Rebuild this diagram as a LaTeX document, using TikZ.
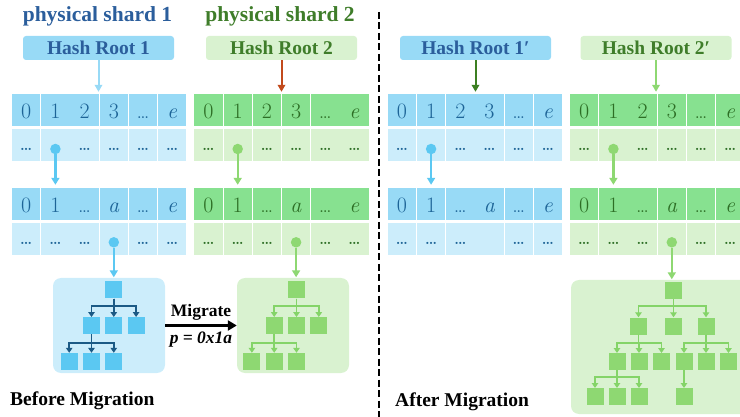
\documentclass[tikz,border=0pt]{standalone}
\usepackage{fontspec}
\usepackage{xcolor}
\usepackage{tikz}
\usetikzlibrary{arrows.meta}
\newfontfamily\labelfont{Liberation Serif}

\definecolor{blueRow}{HTML}{98DAF6}
\definecolor{blueLight}{HTML}{CCEDFB}
\definecolor{blueText}{HTML}{1D6497}
\definecolor{bluePin}{HTML}{5BC8F2}
\definecolor{blueLine}{HTML}{1B5A85}
\definecolor{blueTitle}{HTML}{2B5E9C}
\definecolor{greenRow}{HTML}{87E190}
\definecolor{greenLight}{HTML}{D9F2D0}
\definecolor{greenText}{HTML}{2D6E25}
\definecolor{greenPin}{HTML}{8ED872}
\definecolor{greenLine}{HTML}{84D468}
\definecolor{greenTitle}{HTML}{3F7D2A}
\definecolor{rootRed}{HTML}{C24A1C}
\definecolor{rootGreen}{HTML}{3C7F22}

\begin{document}
\begin{tikzpicture}[x=1pt, y=-1pt,
    cell/.style={rectangle, minimum width=28.4pt, minimum height=32pt, inner sep=0pt},
    numcell/.style={cell, text height=18pt, text depth=0pt, font=\fontsize{22}{24}\selectfont},
    dotcell/.style={cell, text height=11pt, text depth=0pt, font=\fontsize{15}{15}\selectfont\bfseries},
    hashroot/.style={rectangle, rounded corners=3pt, minimum width=151pt, minimum height=24pt, inner sep=0pt, font=\labelfont\bfseries\fontsize{19.5}{22}\selectfont},
    shardtitle/.style={anchor=base, inner sep=0pt, font=\labelfont\bfseries\fontsize{21.5}{24}\selectfont},
    caption/.style={anchor=base west, inner sep=0pt, font=\labelfont\bfseries\fontsize{19.5}{22}\selectfont},
    pin/.style={circle, inner sep=0pt, minimum size=10.5pt},
    pinarrow/.style={line width=2.2pt, -{Triangle[length=7pt,width=8pt]}, shorten >=3pt},
    rootarrow/.style={line width=2pt, -{Triangle[length=7pt,width=7.5pt]}, shorten >=2pt},
    treebox/.style={rectangle, rounded corners=8pt, inner sep=0pt},
    sq/.style={rectangle, minimum size=17pt, inner sep=0pt},
    tarrow/.style={line width=1.8pt, -{Triangle[length=5pt,width=6.5pt]}}]
  \useasboundingbox (0,0) rectangle (740,417);

  % titles and hash roots
  \node[shardtitle, text=blueTitle] (title1) at (97.5,21.5) {physical shard 1};
  \node[shardtitle, text=greenTitle] (title2) at (280,21.5) {physical shard 2};
  \node[hashroot, fill=blueRow, text=blueTitle] (Ahr) at (98.5,48) {Hash Root 1};
  \node[hashroot, fill=greenLight, text=greenTitle] (Bhr) at (281.5,48) {Hash Root 2};
  \node[hashroot, fill=blueRow, text=blueTitle] (Chr) at (475.5,48) {Hash Root 1′};
  \node[hashroot, fill=greenLight, text=greenTitle] (Dhr) at (656,48) {Hash Root 2′};

  % four tables
  \foreach \px/\xo/\cl in {A/12/blue, B/194.3/green, C/387.7/blue, D/570/green}{%
    \foreach \t [count=\i from 0] in {0,1,2,3,\ldots,\textit{e}}
      \node[numcell, fill=\cl Row, text=\cl Text] (\px r1c\i) at (\xo+14.2+29.2*\i, 110) {\t};
    \foreach \t [count=\i from 0] in {\ldots,,\ldots,\ldots,\ldots,\ldots}
      \node[dotcell, fill=\cl Light, text=\cl Text] (\px r2c\i) at (\xo+14.2+29.2*\i, 145) {\t};
    \foreach \t [count=\i from 0] in {0,1,\ldots,\textit{a},\ldots,\textit{e}}
      \node[numcell, fill=\cl Row, text=\cl Text] (\px r3c\i) at (\xo+14.2+29.2*\i, 204) {\t};
    \foreach \t [count=\i from 0] in {\ldots,\ldots,\ldots,,\ldots,\ldots}
      \node[dotcell, fill=\cl Light, text=\cl Text] (\px r4c\i) at (\xo+14.2+29.2*\i, 239) {\t};
    \node[pin, fill=\cl Pin] (\px p1) at ([yshift=-4pt]\px r2c1.center) {};
    \draw[pinarrow, \cl Pin] (\px p1) -- (\px r3c1.north);
  }

  \draw[rootarrow, blueRow] (Ahr) -- (Ahr |- Ar1c2.north);
  \draw[rootarrow, rootRed] (Bhr) -- (Bhr |- Br1c2.north);
  \draw[rootarrow, rootGreen] (Chr) -- (Chr |- Cr1c2.north);
  \draw[rootarrow, greenPin] (Dhr) -- (Dhr |- Dr1c2.north);

  % tree boxes
  \node[treebox, fill=blueLight, minimum width=112pt, minimum height=95pt] (Abox) at (109,325.5) {};
  \node[treebox, fill=greenLight, minimum width=112pt, minimum height=95pt] (Bbox) at (293,325.5) {};
  \node[treebox, fill=greenLight, minimum width=190pt, minimum height=134pt] (Dbox) at (666,347) {};

  \foreach \px/\cl in {A/blue, B/green, D/green}{%
    \node[pin, fill=\cl Pin] (\px p3) at ([yshift=-3.3pt]\px r4c3.center) {};
    \draw[pinarrow, \cl Pin, shorten >=0.5pt] (\px p3) -- (\px p3 |- \px box.north);
  }

  % small trees before migration
  \foreach \px/\cl/\rx in {A/blue/113.8, B/green/296.5}{%
    \node[sq, fill=\cl Pin] (\px t0) at (\rx,290) {};
    \foreach \d [count=\k] in {-22.3,0,22.3}
      \node[sq, fill=\cl Pin] (\px t1\k) at (\rx+\d,325.7) {};
    \foreach \d [count=\k] in {-44.6,-22.3,0}
      \node[sq, fill=\cl Pin] (\px t2\k) at (\rx+\d,361.5) {};
    \foreach \k in {1,2,3}{%
      \draw[tarrow, \cl Line] (\px t0) -- ++(0,16) -| (\px t1\k);
      \draw[tarrow, \cl Line] (\px t11) -- ++(0,17) -| (\px t2\k);
    }
  }

  % tree after migration
  \node[sq, fill=greenPin] (Dt0) at (673.5,290.7) {};
  \foreach \x [count=\k] in {638.5,673.5,706}
    \node[sq, fill=greenPin] (Dt1\k) at (\x,326) {};
  \foreach \x [count=\k] in {617,639,661.5,684,706,728.5}
    \node[sq, fill=greenPin] (Dt2\k) at (\x,361.7) {};
  \foreach \x [count=\k] in {595,617,639,684}
    \node[sq, fill=greenPin] (Dt3\k) at (\x,396.7) {};
  \foreach \k in {1,2,3}{%
    \draw[tarrow, greenLine] (Dt0) -- ++(0,15) -| (Dt1\k);
    \draw[tarrow, greenLine] (Dt11) -- ++(0,16.7) -| (Dt2\k);
    \draw[tarrow, greenLine] (Dt21) -- ++(0,15) -| (Dt3\k);
  }
  \foreach \k in {4,5,6}
    \draw[tarrow, greenLine] (Dt13) -- ++(0,16.7) -| (Dt2\k);
  \draw[tarrow, greenLine] (Dt24) -- (Dt34);

  % migration
  \draw[line width=2.5pt, -{Triangle[length=9pt,width=10pt]}] (Abox) --
    node[above=0.5pt, font=\labelfont\bfseries\fontsize{17.5}{20}\selectfont] (mig) {Migrate}
    node[below=2pt, font=\labelfont\bfseries\itshape\fontsize{17.5}{20}\selectfont] (addr) {p = 0x1a} (Bbox);

  \draw[line width=2.2pt, dash pattern=on 7pt off 3.5pt] (379,12) -- (379,417);

  \node[caption] (before) at (10,405.5) {Before Migration};
  \node[caption] (after) at (395,406) {After Migration};
\end{tikzpicture}
\end{document}
